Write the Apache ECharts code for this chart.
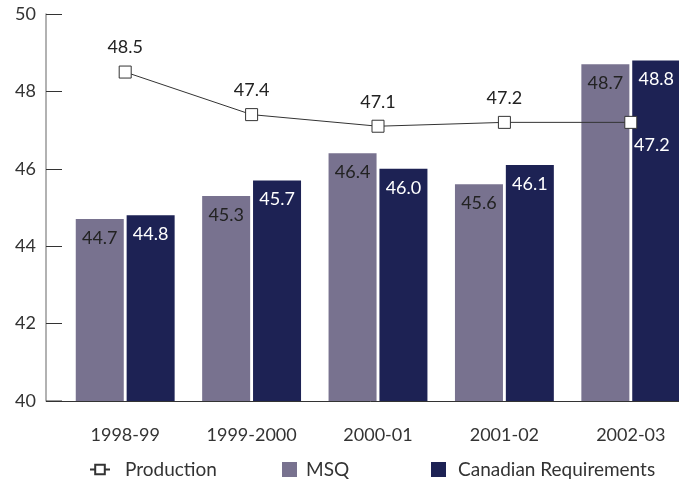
<!DOCTYPE html>
<html lang="en">
<head>
<meta charset="UTF-8">
<title>production vs requirements</title>
<script src="https://cdn.jsdelivr.net/npm/echarts@6/dist/echarts.min.js"></script>
<style>
  html, body { margin: 0; padding: 0; background: #fff; }
  #chart { width: 679px; height: 485px; }
</style>
</head>
<body>
<div id="chart"></div>
<script>
// data
var years = ['1998-99', '1999-2000', '2000-01', '2001-02', '2002-03'];
var production = [48.5, 47.4, 47.1, 47.2, 47.2];
var msq = [44.7, 45.3, 46.4, 45.6, 48.7];
var canadian = [44.8, 45.7, 46.0, 46.1, 48.8];

var FONT = 'Lato';
var MSQ_COLOR = '#78728f';
var CR_COLOR = '#1d2254';

var chart = echarts.init(document.getElementById('chart'));

function oneDecimal(p) { return p.value.toFixed(1); }

var legendBase = {
  top: 455,
  itemHeight: 14,
  textStyle: { fontFamily: FONT, fontSize: 19, color: '#333' },
  selectedMode: false
};

chart.setOption({
  animation: false,
  grid: { left: 62, width: 632, top: 14, bottom: 84, outerBoundsMode: 'none' },
  legend: [
    Object.assign({}, legendBase, {
      left: 84, itemWidth: 20, itemHeight: 12,
      data: ['Production'],
      textStyle: Object.assign({}, legendBase.textStyle, { padding: [0, 0, 0, 10] })
    }),
    Object.assign({}, legendBase, {
      left: 277, itemWidth: 15, itemHeight: 15,
      data: [{ name: 'MSQ', icon: 'rect' }],
      textStyle: Object.assign({}, legendBase.textStyle, { padding: [0, 0, 0, 4] })
    }),
    Object.assign({}, legendBase, {
      left: 426, itemWidth: 15, itemHeight: 15,
      data: [{ name: 'Canadian Requirements', icon: 'rect' }],
      textStyle: Object.assign({}, legendBase.textStyle, { padding: [0, 0, 0, 7] })
    })
  ],
  xAxis: {
    type: 'category',
    data: years,
    axisLine: { lineStyle: { color: '#333', width: 1 } },
    axisTick: { show: false },
    axisLabel: { fontFamily: FONT, fontSize: 18, color: '#333', margin: 25 }
  },
  yAxis: {
    type: 'value',
    min: 40, max: 50, interval: 2,
    offset: 16,
    axisLine: { show: true, lineStyle: { color: '#999', width: 1.5 } },
    axisTick: { show: true, inside: true, length: 16, lineStyle: { color: '#333' } },
    splitLine: { show: false },
    axisLabel: { fontFamily: FONT, fontSize: 18, color: '#333', margin: 10 }
  },
  graphic: [{
    type: 'line',
    shape: { x1: 46, y1: 401, x2: 62, y2: 401 },
    style: { stroke: '#333', lineWidth: 1 },
    z: 10
  }],
  series: [
    {
      name: 'MSQ', type: 'bar', data: msq,
      barWidth: 48, barGap: '6%',
      itemStyle: { color: MSQ_COLOR },
      label: { show: true, position: 'insideTop', distance: 10, formatter: oneDecimal,
               fontFamily: FONT, fontSize: 18, color: '#222' }
    },
    {
      name: 'Canadian Requirements', type: 'bar', data: canadian,
      barWidth: 48,
      itemStyle: { color: CR_COLOR },
      label: { show: true, position: 'insideTop', distance: 10, formatter: oneDecimal,
               fontFamily: FONT, fontSize: 18, color: '#fff' }
    },
    {
      name: 'Production', type: 'line',
      data: production.map(function (v, i) {
        if (i === production.length - 1) {
          // last label sits below the marker, inside the navy bar
          return { value: v, label: { position: 'bottom', distance: 7, offset: [21, 0], color: '#fff' } };
        }
        return v;
      }),
      symbol: 'rect', symbolSize: 12,
      lineStyle: { color: '#333', width: 1 },
      itemStyle: { color: '#fff', borderColor: '#333', borderWidth: 1 },
      label: { show: true, position: 'top', distance: 9, formatter: oneDecimal,
               fontFamily: FONT, fontSize: 18, color: '#222' },
      z: 5
    }
  ]
});
</script>
</body>
</html>
